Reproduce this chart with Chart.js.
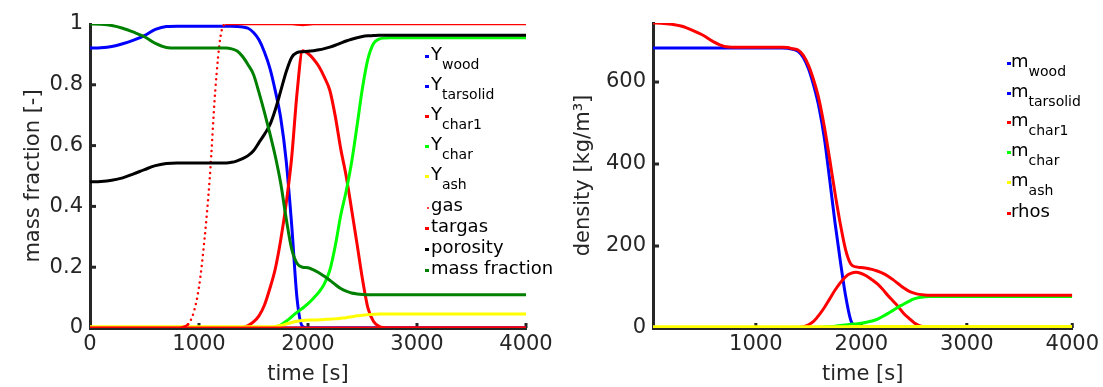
<!DOCTYPE html>
<html>
<head>
<meta charset="utf-8">
<script src="https://cdn.jsdelivr.net/npm/chart.js@4.4.1/dist/chart.umd.min.js"></script>
<style>
  body { margin: 0; background: #fff; font-family: 'DejaVu Sans', sans-serif; }
  #wrap { position: relative; width: 1103px; height: 387px; overflow: hidden; }
  canvas { position: absolute; top: 0; }
  #left { left: 0; }
  #right { left: 560px; }
  .lg { position: absolute; color: #000; font-size: 18px; line-height: 18px; white-space: nowrap; }
  .lg .sb { font-size: 14px; position: relative; top: 9px; }
  .lg .mk { position: absolute; top: 10.7px; width: 4px; height: 3px; }
  .lg .dot { width: 2.5px; height: 2.5px; border-radius: 50%; }
</style>
</head>
<body>
<div id="wrap">
  <canvas id="left" width="560" height="387"></canvas>
  <canvas id="right" width="543" height="387"></canvas>
</div>
<script>
// ---- left plot: mass fractions ----
const time = [0, 100, 200, 300, 400, 500, 600, 700, 800,
  850, 900, 950, 1000, 1050, 1100, 1150, 1200, 1250, 1300, 1350, 1400, 1450, 1500, 1550, 1600, 1650,
  1700, 1750, 1800, 1850, 1900, 1950, 2000, 2050, 2100, 2150, 2200, 2250, 2300, 2350, 2400, 2450,
  2500, 2550, 2600, 2650, 2700, 2750, 2800, 2900, 3000, 3500, 4000];

const yWood = [0.921, 0.922, 0.926, 0.935, 0.947, 0.962, 0.982, 0.992, 0.993,
  0.993, 0.993, 0.993, 0.993, 0.993, 0.993, 0.993, 0.993, 0.993, 0.993, 0.992, 0.99, 0.986, 0.972, 0.948, 0.908, 0.855,
  0.78, 0.69, 0.55, 0.34, 0.095, 0.005, 0, 0, 0, 0, 0, 0, 0, 0, 0, 0,
  0, 0, 0, 0, 0, 0, 0, 0, 0, 0, 0];
const yTarsolid = [0, 0, 0, 0, 0, 0, 0, 0, 0,
  0, 0, 0, 0, 0, 0, 0, 0, 0, 0, 0, 0, 0, 0, 0, 0, 0,
  0, 0, 0, 0, 0, 0, 0, 0, 0, 0, 0, 0, 0, 0, 0, 0,
  0, 0, 0, 0, 0, 0, 0, 0, 0, 0, 0];
const yChar1 = [0, 0, 0, 0, 0, 0, 0, 0, 0,
  0, 0, 0, 0, 0, 0, 0, 0, 0, 0, 0, 0.002, 0.008, 0.02, 0.04, 0.075, 0.13,
  0.195, 0.29, 0.41, 0.56, 0.775, 0.912, 0.903, 0.885, 0.86, 0.825, 0.782, 0.697, 0.59, 0.5, 0.39, 0.276,
  0.16, 0.065, 0.022, 0.006, 0.001, 0, 0, 0, 0, 0, 0];
const yChar = [0, 0, 0, 0, 0, 0, 0, 0, 0,
  0, 0, 0, 0, 0, 0, 0, 0, 0, 0, 0, 0, 0, 0, 0, 0, 0,
  0.003, 0.01, 0.022, 0.037, 0.052, 0.065, 0.08, 0.098, 0.118, 0.145, 0.19, 0.27, 0.37, 0.45, 0.545, 0.665,
  0.79, 0.885, 0.935, 0.95, 0.954, 0.955, 0.955, 0.955, 0.955, 0.955, 0.955];
const yAsh = [0.004, 0.004, 0.004, 0.004, 0.004, 0.004, 0.004, 0.004, 0.004,
  0.004, 0.004, 0.004, 0.004, 0.004, 0.004, 0.004, 0.004, 0.004, 0.004, 0.004, 0.004, 0.004, 0.004, 0.004, 0.004, 0.004,
  0.005, 0.008, 0.013, 0.018, 0.022, 0.025, 0.026, 0.026, 0.027, 0.028, 0.029, 0.03, 0.032, 0.034, 0.037, 0.04,
  0.042, 0.044, 0.045, 0.046, 0.046, 0.046, 0.046, 0.046, 0.046, 0.046, 0.046];
const gas = [0, 0, 0, 0, 0, 0, 0, 0, 0,
  0.003, 0.012, 0.05, 0.135, 0.29, 0.5, 0.785, 0.965, 1, 1, 1, 1, 1, 1, 1, 1, 1,
  1, 1, 1, 1, 0.998, 0.997, 0.998, 1, 1, 1, 1, 1, 1, 1, 1, 1,
  1, 1, 1, 1, 1, 1, 1, 1, 1, 1, 1];
const targas = [0, 0, 0, 0, 0, 0, 0, 0, 0,
  0, 0, 0, 0, 0, 0, 0, 0, 0, 0, 0, 0, 0, 0, 0, 0, 0,
  0, 0, 0, 0, 0, 0, 0, 0, 0, 0, 0, 0, 0, 0, 0, 0,
  0, 0, 0, 0, 0, 0, 0, 0, 0, 0, 0];
const porosity = [0.481, 0.482, 0.486, 0.494, 0.507, 0.521, 0.534, 0.541, 0.543,
  0.543, 0.543, 0.543, 0.543, 0.543, 0.543, 0.543, 0.543, 0.543, 0.545, 0.55, 0.557, 0.567, 0.583, 0.61, 0.637, 0.668,
  0.718, 0.78, 0.843, 0.89, 0.906, 0.909, 0.91, 0.912, 0.915, 0.919, 0.924, 0.93, 0.937, 0.944, 0.95, 0.955,
  0.959, 0.961, 0.962, 0.963, 0.963, 0.963, 0.963, 0.963, 0.963, 0.963, 0.963];
const massFraction = [1, 0.999, 0.995, 0.986, 0.973, 0.958, 0.936, 0.923, 0.921,
  0.921, 0.921, 0.921, 0.921, 0.921, 0.921, 0.921, 0.921, 0.921, 0.918, 0.911, 0.893, 0.866, 0.834, 0.775, 0.71, 0.64,
  0.565, 0.475, 0.36, 0.26, 0.212, 0.2, 0.198, 0.191, 0.182, 0.17, 0.157, 0.143, 0.13, 0.121, 0.115, 0.112,
  0.11, 0.109, 0.109, 0.109, 0.109, 0.109, 0.109, 0.109, 0.109, 0.109, 0.109];

const leftNames = ['Y_wood', 'Y_tarsolid', 'Y_char1', 'Y_char', 'Y_ash', 'gas', 'targas', 'porosity', 'mass fraction'];
const leftColors = ['#0000ff', '#0000ff', '#ff0000', '#00ff00', '#ffff00', '#ff0000', '#ff0000', '#000000', '#008000'];
const leftXTicks = [0, 1000, 2000, 3000, 4000];
const leftYTicks = [0, 0.2, 0.4, 0.6, 0.8, 1];

// ---- right plot: densities ----
const timeRho = [25, 100, 200, 300, 400, 500, 600, 700, 800,
  850, 900, 950, 1000, 1050, 1100, 1150, 1200, 1250, 1300, 1350, 1400, 1450, 1500, 1550, 1600, 1650,
  1700, 1750, 1800, 1850, 1900, 1950, 2000, 2050, 2100, 2150, 2200, 2250, 2300, 2350, 2400, 2450,
  2500, 2550, 2600, 2650, 2700, 2750, 2800, 2900, 3000, 3500, 4000];

const mWood = [683, 683, 683, 683, 683, 683, 683, 683, 683,
  683, 683, 683, 683, 683, 683, 683, 683, 683, 682.5, 680, 675, 660, 632, 590, 537, 462,
  362, 258, 165, 80, 19, 1.5, 0, 0, 0, 0, 0, 0, 0, 0, 0, 0,
  0, 0, 0, 0, 0, 0, 0, 0, 0, 0, 0];
const mTarsolid = [0, 0, 0, 0, 0, 0, 0, 0, 0,
  0, 0, 0, 0, 0, 0, 0, 0, 0, 0, 0, 0, 0, 0, 0, 0, 0,
  0, 0, 0, 0, 0, 0, 0, 0, 0, 0, 0, 0, 0, 0, 0, 0,
  0, 0, 0, 0, 0, 0, 0, 0, 0, 0, 0];
const mChar1 = [0, 0, 0, 0, 0, 0, 0, 0, 0,
  0, 0, 0, 0, 0, 0, 0, 0, 0, 0, 0, 1, 3, 8, 17, 32, 50,
  71, 92, 110, 125, 133, 136, 133, 127, 118, 108, 95, 80, 66, 52, 36, 24,
  13, 6, 2.5, 0.5, 0, 0, 0, 0, 0, 0, 0];
const mChar = [0, 0, 0, 0, 0, 0, 0, 0, 0,
  0, 0, 0, 0, 0, 0, 0, 0, 0, 0, 0, 0, 0.3, 0.6, 1, 1.8, 2.6,
  3.5, 4.5, 6, 7.5, 9, 10, 11.5, 14, 17, 21, 28, 35, 43, 51, 58, 65,
  71, 74.5, 76, 77, 77, 77, 77, 77, 77, 77, 77];
const mAsh = [3, 3, 3, 3, 3, 3, 3, 3, 3,
  3, 3, 3, 3, 3, 3, 3, 3, 3, 3, 3, 3, 3, 3, 3, 3, 3,
  3, 3.1, 3.2, 3.3, 3.4, 3.4, 3.4, 3.4, 3.4, 3.5, 3.5, 3.5, 3.5, 3.5, 3.6, 3.6,
  3.6, 3.6, 3.7, 3.7, 3.7, 3.7, 3.7, 3.7, 3.7, 3.7, 3.7];
const rhos = [744, 743.5, 741, 736, 726, 714, 698, 687, 685,
  685, 685, 685, 685, 685, 685, 685, 685, 685, 684, 681, 678, 665, 640, 603, 556, 490,
  412, 330, 255, 192, 156, 149, 147.5, 146, 143, 139, 134, 127, 118, 108, 98, 90,
  85, 82, 80.5, 80, 80, 80, 80, 80, 80, 80, 80];

const rightNames = ['m_wood', 'm_tarsolid', 'm_char1', 'm_char', 'm_ash', 'rhos'];
const rightColors = ['#0000ff', '#0000ff', '#ff0000', '#00ff00', '#ffff00', '#ff0000'];
const rightXTicks = [1000, 2000, 3000, 4000];
const rightYTicks = [0, 200, 400, 600];

const AXIS = '#262626';
Chart.defaults.font.family = "'DejaVu Sans', sans-serif";
Chart.defaults.color = AXIS;

function makeSets(t, series, names, colors) {
  return series.map(function(s, i) {
    return {
      label: names[i],
      data: s.map(function(v, k) { return {x: t[k], y: v}; }),
      borderColor: colors[i],
      backgroundColor: colors[i],
      borderWidth: 3,
      borderJoinStyle: 'round',
      pointRadius: 0,
      cubicInterpolationMode: 'monotone',
      order: series.length - i   // later series drawn on top, like the original
    };
  });
}

// small tick marks pointing into the plot
const inwardTicks = {
  id: 'inwardTicks',
  beforeDatasetsDraw: function(chart) {
    const ctx = chart.ctx, a = chart.chartArea;
    const xs = chart.scales.x, ys = chart.scales.y;
    ctx.save();
    ctx.strokeStyle = AXIS;
    ctx.lineWidth = 3;
    xs.ticks.forEach(function(tk) {
      const px = xs.getPixelForValue(tk.value);
      if (px < a.left + 3) return;
      ctx.beginPath(); ctx.moveTo(px, a.bottom); ctx.lineTo(px, a.bottom - 5); ctx.stroke();
    });
    ys.ticks.forEach(function(tk) {
      const py = ys.getPixelForValue(tk.value);
      if (py > a.bottom - 3 || py < a.top + 3) return;
      ctx.beginPath(); ctx.moveTo(a.left, py); ctx.lineTo(a.left + 6, py); ctx.stroke();
    });
    ctx.restore();
  }
};

function fmt(v) { return String(+v.toFixed(4)); }

function makeScales(o) {
  return {
    x: {
      type: 'linear', min: o.xmin, max: 4000,
      afterBuildTicks: function(s) { s.ticks = o.xticks.map(function(v) { return {value: v}; }); },
      afterFit: function(s) { s.height = o.xh; },
      ticks: {maxRotation: 0, autoSkip: false, padding: 4, font: {size: 21}, callback: fmt},
      grid: {display: false, drawTicks: false},
      border: {display: true, color: AXIS, width: 3},
      title: {display: true, text: 'time [s]', font: {size: 21}, padding: {top: 0, bottom: 0}}
    },
    y: {
      type: 'linear', min: 0, max: o.ymax,
      afterBuildTicks: function(s) { s.ticks = o.yticks.map(function(v) { return {value: v}; }); },
      afterFit: function(s) { s.width = o.yw; },
      ticks: {autoSkip: false, padding: 7, font: {size: 21}, callback: fmt},
      grid: {display: false, drawTicks: false},
      border: {display: true, color: AXIS, width: 3},
      title: {display: true, text: o.ytitle, font: {size: 21}, padding: {top: o.tpad, bottom: 0}}
    }
  };
}

const leftSets = makeSets(time, [yWood, yTarsolid, yChar1, yChar, yAsh, gas, targas, porosity, massFraction], leftNames, leftColors);
// gas is drawn as dots where it changes fast
leftSets[5].borderWidth = 2.5;
leftSets[5].borderCapStyle = 'round';
leftSets[5].segment = {
  borderDash: function(c) { return Math.abs(c.p1.parsed.y - c.p0.parsed.y) > 0.02 ? [0, 5.5] : undefined; }
};

new Chart(document.getElementById('left'), {
  type: 'line',
  data: {datasets: leftSets},
  options: {
    responsive: false, animation: false,
    layout: {padding: {top: 24, right: 34, bottom: 0, left: 0}},
    plugins: {legend: {display: false}, tooltip: {enabled: false}},
    scales: makeScales({xmin: 0, xticks: leftXTicks, xh: 59, ymax: 1, yticks: leftYTicks, yw: 90, ytitle: 'mass fraction [-]', tpad: 21})
  },
  plugins: [inwardTicks]
});

new Chart(document.getElementById('right'), {
  type: 'line',
  data: {datasets: makeSets(timeRho, [mWood, mTarsolid, mChar1, mChar, mAsh, rhos], rightNames, rightColors)},
  options: {
    responsive: false, animation: false,
    layout: {padding: {top: 23, right: 29, bottom: 0, left: 0}},
    plugins: {legend: {display: false}, tooltip: {enabled: false}},
    scales: makeScales({xmin: 25, xticks: rightXTicks, xh: 59, ymax: 744, yticks: rightYTicks, yw: 93, ytitle: 'density [kg/m\u00b3]', tpad: 11})
  },
  plugins: [inwardTicks]
});

// legends: short coloured dash, then label with subscript
function buildLegend(names, colors, baselines, textX, markOff, dotIndex) {
  const wrap = document.getElementById('wrap');
  names.forEach(function(n, i) {
    const row = document.createElement('div');
    row.className = 'lg';
    row.style.left = textX + 'px';
    row.style.top = (baselines[i] - 15.2) + 'px';
    const mk = document.createElement('span');
    mk.className = i === dotIndex ? 'mk dot' : 'mk';
    mk.style.left = (i === dotIndex ? markOff + 1.5 : markOff) + 'px';
    if (i === dotIndex) mk.style.top = '11px';
    mk.style.background = colors[i];
    row.appendChild(mk);
    const parts = n.split('_');
    row.appendChild(document.createTextNode(parts[0]));
    if (parts.length > 1) {
      const sb = document.createElement('span');
      sb.className = 'sb';
      sb.textContent = parts[1];
      row.appendChild(sb);
    }
    wrap.appendChild(row);
  });
}

buildLegend(leftNames, leftColors, [60, 90, 120, 150, 180, 211, 232, 253, 274], 431, -6, 5);
buildLegend(rightNames, rightColors, [67, 97, 126, 156, 186, 217], 1011, -4.5, -1);
</script>
</body>
</html>
